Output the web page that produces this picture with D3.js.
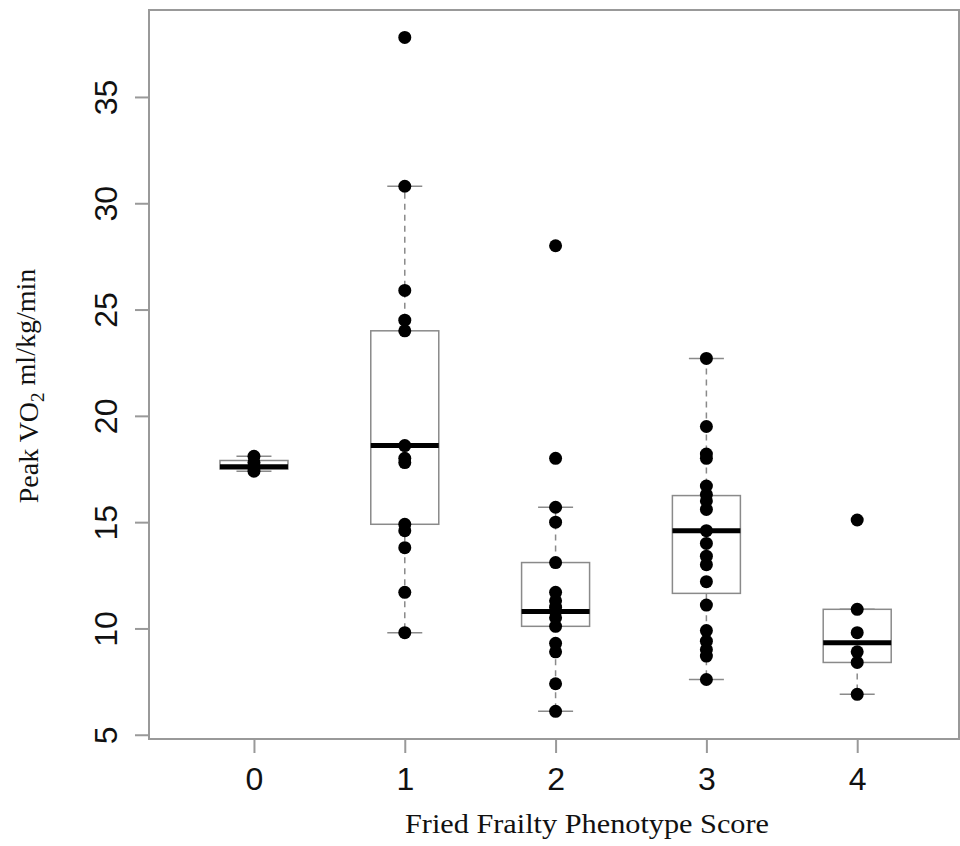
<!DOCTYPE html>
<html lang="en">
<head>
    <meta charset="UTF-8">
    <title>Peak VO2 by Fried Frailty Phenotype Score</title>
    <script src="https://d3js.org/d3.v7.min.js"></script>
    <style>
        body { margin: 0; background: #fff; }
        .tick text { font-family: "Liberation Sans", Arial, sans-serif; font-size: 32px; fill: #111; }
        .label { font-family: "Liberation Serif", "Times New Roman", serif; font-size: 28px; fill: #111; }
    </style>
</head>
<body>
    <svg id="chart"></svg>

    <script>
        // scores on the x axis
        const scores = [0, 1, 2, 3, 4];

        // box statistics
        const q1 = [17.5, 14.9, 10.1, 11.65, 8.4];
        const medians = [17.6, 18.6, 10.8, 14.6, 9.33];
        const q3 = [17.9, 24.0, 13.1, 16.25, 10.9];
        const whiskerLow = [17.4, 9.8, 6.1, 7.6, 6.9];
        const whiskerHigh = [18.1, 30.8, 15.7, 22.7, 10.9];

        // individual patients, peak VO2 ml/kg/min
        const vo2Score0 = [18.1, 17.8, 17.6, 17.4];
        const vo2Score1 = [37.8, 30.8, 25.9, 24.5, 24.0, 18.6, 18.0, 17.8, 14.9, 14.6, 13.8, 11.7, 9.8];
        const vo2Score2 = [28.0, 18.0, 15.7, 15.0, 13.1, 11.7, 11.3, 11.0, 10.8, 10.5, 10.1, 9.3, 8.9, 7.4, 6.1];
        const vo2Score3 = [22.7, 19.5, 18.2, 18.0, 16.7, 16.3, 16.0, 15.6, 14.6, 14.0, 13.4, 13.0, 12.2, 11.1, 9.9, 9.4, 9.0, 8.7, 7.6];
        const vo2Score4 = [15.1, 10.9, 9.8, 8.9, 8.4, 6.9];
        const allPoints = [vo2Score0, vo2Score1, vo2Score2, vo2Score3, vo2Score4];

        const yTicks = [5, 10, 15, 20, 25, 30, 35];

        const width = 960, height = 846;
        const plotLeft = 149, plotRight = 959, plotTop = 10, plotBottom = 739;

        const svg = d3.select("#chart").attr("width", width).attr("height", height);

        const x = d3.scaleLinear().domain([-0.696, 4.675]).range([plotLeft, plotRight]);
        const y = d3.scaleLinear().domain([4.8, 39.09]).range([plotBottom, plotTop]);

        const boxHalf = 34;
        const capHalf = 17.5;
        const grey = "#8a8a8a";

        // frame
        svg.append("rect")
            .attr("x", plotLeft).attr("y", plotTop)
            .attr("width", plotRight - plotLeft).attr("height", plotBottom - plotTop)
            .attr("fill", "none").attr("stroke", "#999").attr("stroke-width", 2);

        // y axis
        const yAxis = svg.append("g")
            .attr("transform", `translate(${plotLeft},0)`)
            .call(d3.axisLeft(y).tickValues(yTicks).tickSize(14).tickFormat(d3.format("d")));
        yAxis.select(".domain").remove();
        yAxis.selectAll(".tick line").attr("stroke", "#999").attr("stroke-width", 2);
        yAxis.selectAll(".tick text")
            .attr("x", null).attr("dy", null)
            .attr("text-anchor", "middle")
            .attr("transform", "translate(-32,0) rotate(-90)");

        // x axis
        const xAxis = svg.append("g")
            .attr("transform", `translate(0,${plotBottom})`)
            .call(d3.axisBottom(x).tickValues(scores).tickSize(14).tickFormat(d3.format("d")));
        xAxis.select(".domain").remove();
        xAxis.selectAll(".tick line").attr("stroke", "#999").attr("stroke-width", 2);
        xAxis.selectAll(".tick text").attr("y", 51).attr("dy", null);

        const groups = svg.append("g").selectAll("g")
            .data(scores)
            .join("g");

        // whiskers
        groups.append("line")
            .attr("x1", d => x(d)).attr("x2", d => x(d))
            .attr("y1", (d, i) => y(q3[i])).attr("y2", (d, i) => y(whiskerHigh[i]))
            .attr("stroke", grey).attr("stroke-width", 1.5).attr("stroke-dasharray", "6,5");
        groups.append("line")
            .attr("x1", d => x(d)).attr("x2", d => x(d))
            .attr("y1", (d, i) => y(q1[i])).attr("y2", (d, i) => y(whiskerLow[i]))
            .attr("stroke", grey).attr("stroke-width", 1.5).attr("stroke-dasharray", "6,5");

        // caps
        groups.append("line")
            .attr("x1", d => x(d) - capHalf).attr("x2", d => x(d) + capHalf)
            .attr("y1", (d, i) => y(whiskerHigh[i])).attr("y2", (d, i) => y(whiskerHigh[i]))
            .attr("stroke", grey).attr("stroke-width", 1.5);
        groups.append("line")
            .attr("x1", d => x(d) - capHalf).attr("x2", d => x(d) + capHalf)
            .attr("y1", (d, i) => y(whiskerLow[i])).attr("y2", (d, i) => y(whiskerLow[i]))
            .attr("stroke", grey).attr("stroke-width", 1.5);

        // boxes
        groups.append("rect")
            .attr("x", d => x(d) - boxHalf)
            .attr("y", (d, i) => y(q3[i]))
            .attr("width", boxHalf * 2)
            .attr("height", (d, i) => y(q1[i]) - y(q3[i]))
            .attr("fill", "#fff").attr("stroke", grey).attr("stroke-width", 1.5);

        // medians
        groups.append("line")
            .attr("x1", d => x(d) - boxHalf).attr("x2", d => x(d) + boxHalf)
            .attr("y1", (d, i) => y(medians[i])).attr("y2", (d, i) => y(medians[i]))
            .attr("stroke", "#000").attr("stroke-width", 5);

        // points
        groups.each(function(d, i) {
            d3.select(this).selectAll("circle")
                .data(allPoints[i])
                .join("circle")
                .attr("cx", x(d))
                .attr("cy", v => y(v))
                .attr("r", 6.5)
                .attr("fill", "#000");
        });

        // axis titles
        svg.append("text")
            .attr("class", "label")
            .attr("x", 587).attr("y", 833)
            .attr("text-anchor", "middle")
            .attr("textLength", 364)
            .attr("lengthAdjust", "spacingAndGlyphs")
            .text("Fried Frailty Phenotype Score");

        const yLabel = svg.append("text")
            .attr("class", "label")
            .attr("text-anchor", "middle")
            .attr("transform", "translate(38,386) rotate(-90)");
        yLabel.append("tspan").text("Peak VO");
        yLabel.append("tspan").attr("font-size", "19px").attr("dy", "0.3em").text("2");
        yLabel.append("tspan").attr("dy", "-0.3em").text(" ml/kg/min");
    </script>
</body>
</html>
